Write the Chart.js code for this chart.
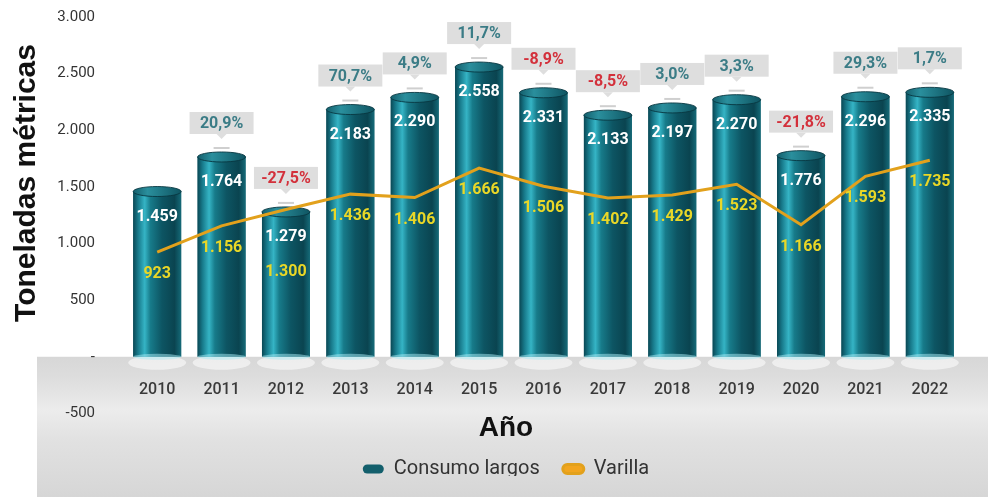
<!DOCTYPE html>
<html>
<head>
<meta charset="utf-8">
<script src="https://cdn.jsdelivr.net/npm/chart.js@4.4.0/dist/chart.umd.min.js"></script>
<style>
    html, body { margin: 0; padding: 0; background: #fff; }
</style>
</head>
<body>
<canvas id="grafica" width="988" height="497"></canvas>
<script>
var anios = ['2010', '2011', '2012', '2013', '2014', '2015', '2016', '2017', '2018', '2019', '2020', '2021', '2022']
var consumo_largos = [1459, 1764, 1279, 2183, 2290, 2558, 2331, 2133, 2197, 2270, 1776, 2296, 2335]
var varilla = [923, 1156, 1300, 1436, 1406, 1666, 1506, 1402, 1429, 1523, 1166, 1593, 1735]
// variacion anual del consumo (%), 2010 sin dato
var variacion = [null, 20.9, -27.5, 70.7, 4.9, 11.7, -8.9, -8.5, 3.0, 3.3, -21.8, 29.3, 1.7]
var ticks_y = [-500, 0, 500, 1000, 1500, 2000, 2500, 3000]

var fuente_num = 'Roboto, "DejaVu Sans", sans-serif'
var fuente_tit = '"Liberation Sans", Arial, sans-serif'

function miles(n) {
    return String(n).replace(/\B(?=(\d{3})+(?!\d))/g, '.')
}
function porcentaje(n) {
    return n.toFixed(1).replace('.', ',') + '%'
}

// franja gris bajo el cero
var fondo_gris = {
    id: 'fondo_gris',
    beforeDraw(chart) {
        const ctx = chart.ctx
        const y0 = chart.scales.y.getPixelForValue(0)
        const g = ctx.createLinearGradient(0, y0, 0, chart.height)
        g.addColorStop(0, '#d7d7d7')
        g.addColorStop(0.15, '#dddddd')
        g.addColorStop(0.38, '#ececec')
        g.addColorStop(0.6, '#e1e1e1')
        g.addColorStop(1, '#d6d6d6')
        ctx.save()
        ctx.fillStyle = g
        ctx.fillRect(37, y0, chart.width - 37, chart.height - y0)
        ctx.restore()
    }
}

// barras tipo cilindro
var cilindros = {
    id: 'cilindros',
    beforeDatasetDraw(chart, args) {
        if (args.index !== 0) return
        const ctx = chart.ctx
        ctx.save()
        args.meta.data.forEach(el => {
            const p = el.getProps(['x', 'base', 'width'], true)
            ctx.fillStyle = 'rgba(255,255,255,0.55)'
            ctx.beginPath()
            ctx.ellipse(p.x, p.base + 6, p.width / 2 + 5, 7, 0, 0, Math.PI * 2)
            ctx.fill()
        })
        ctx.restore()
    },
    afterDatasetDraw(chart, args) {
        if (args.index !== 0) return
        const ctx = chart.ctx
        ctx.save()
        args.meta.data.forEach(el => {
            const p = el.getProps(['x', 'y', 'base', 'width'], true)
            const izq = p.x - p.width / 2
            const g = ctx.createLinearGradient(izq, 0, izq + p.width, 0)
            g.addColorStop(0, '#0a4855')
            g.addColorStop(0.1, '#17798a')
            g.addColorStop(0.24, '#35b4c5')
            g.addColorStop(0.36, '#177b8a')
            g.addColorStop(0.6, '#0d5563')
            g.addColorStop(0.86, '#0a4450')
            g.addColorStop(1, '#156a78')
            ctx.fillStyle = g
            ctx.fillRect(izq, p.y, p.width, p.base - p.y)
            // brillo en la base
            ctx.fillStyle = 'rgba(170,235,245,0.5)'
            ctx.beginPath()
            ctx.ellipse(p.x, p.base, p.width / 2, 3, 0, 0, Math.PI * 2)
            ctx.fill()
            // tapa superior
            const t = ctx.createLinearGradient(izq, 0, izq + p.width, 0)
            t.addColorStop(0, '#145f6c')
            t.addColorStop(0.3, '#2a8f9d')
            t.addColorStop(1, '#0f5562')
            ctx.fillStyle = t
            ctx.beginPath()
            ctx.ellipse(p.x, p.y, p.width / 2, 5, 0, 0, Math.PI * 2)
            ctx.fill()
            ctx.strokeStyle = 'rgba(8,55,65,0.9)'
            ctx.lineWidth = 1
            ctx.stroke()
        })
        ctx.restore()
    }
}

// etiquetas de valores y variaciones
var etiquetas = {
    id: 'etiquetas',
    afterDraw(chart) {
        const ctx = chart.ctx
        const barras = chart.getDatasetMeta(0).data
        const puntos = chart.getDatasetMeta(1).data
        ctx.save()
        ctx.textAlign = 'center'
        ctx.textBaseline = 'middle'
        barras.forEach((el, i) => {
            const x = el.x, top = el.y
            const y_barra = top + 25
            ctx.font = 'bold 16px ' + fuente_num
            ctx.fillStyle = '#ffffff'
            ctx.fillText(miles(consumo_largos[i]), x, y_barra)

            let y_var = puntos[i].y + 22
            if (Math.abs(y_var - y_barra) < 20) y_var = y_barra + 35
            ctx.fillStyle = '#e9d727'
            ctx.fillText(miles(varilla[i]), x, y_var)

            if (variacion[i] === null) return
            const cy = top - 34
            ctx.fillStyle = '#dedede'
            ctx.fillRect(x - 32, cy - 11, 64, 22)
            ctx.beginPath()
            ctx.moveTo(x - 5, cy + 11)
            ctx.lineTo(x + 5, cy + 11)
            ctx.lineTo(x, cy + 16)
            ctx.closePath()
            ctx.fill()
            ctx.strokeStyle = '#cfcfcf'
            ctx.lineWidth = 2
            ctx.beginPath()
            ctx.moveTo(x - 8, top - 9)
            ctx.lineTo(x + 8, top - 9)
            ctx.stroke()
            ctx.font = 'bold 16px ' + fuente_num
            ctx.fillStyle = variacion[i] < 0 ? '#d3303b' : '#3b7c86'
            ctx.fillText(porcentaje(variacion[i]), x, cy + 1)
        })
        // titulo del eje y
        ctx.translate(27, 183)
        ctx.rotate(-Math.PI / 2)
        ctx.font = 'bold 30px ' + fuente_tit
        ctx.fillStyle = '#111111'
        ctx.fillText('Toneladas métricas', 0, 0)
        ctx.restore()
    }
}

var grafica = new Chart(document.getElementById('grafica'), {
    data: {
        labels: anios,
        datasets: [{
            type: 'bar',
            label: 'Consumo largos',
            data: consumo_largos,
            backgroundColor: '#135f6c',
            borderWidth: 0,
            barPercentage: 0.745,
            categoryPercentage: 1,
            order: 2
        }, {
            type: 'line',
            label: 'Varilla',
            data: varilla,
            borderColor: '#e2a11c',
            backgroundColor: '#f2a51e',
            borderWidth: 3,
            pointRadius: 0,
            tension: 0,
            order: 1
        }]
    },
    options: {
        responsive: false,
        animation: false,
        layout: { padding: { top: 17, left: 50, right: 26, bottom: 21 } },
        scales: {
            x: {
                position: { y: 0 },
                grid: { display: false, drawTicks: false },
                border: { display: false },
                afterFit: function (scale) { scale.height = 0 },
                ticks: { padding: 24, color: '#3a3a3a', font: { family: fuente_num, size: 16, weight: '500' } }
            },
            y: {
                min: -500,
                max: 3000,
                grid: { display: false, drawTicks: false },
                border: { display: false },
                afterBuildTicks: function (scale) {
                    scale.ticks = ticks_y.map(v => ({ value: v }))
                },
                afterFit: function (scale) {
                    scale.width = 75
                    scale.paddingTop = 8
                    scale.paddingBottom = 8
                },
                ticks: {
                    padding: 30,
                    color: '#333333',
                    font: { family: fuente_num, size: 15 },
                    callback: v => v === 0 ? '-' : miles(v)
                }
            }
        },
        plugins: {
            title: {
                display: true,
                position: 'bottom',
                weight: 500,
                text: 'Año',
                color: '#111111',
                padding: { top: -2, bottom: -9 },
                font: { family: fuente_tit, size: 28, weight: 'bold', lineHeight: 1.2 }
            },
            legend: {
                position: 'bottom',
                maxHeight: 40,
                labels: {
                    color: '#333333',
                    font: { family: fuente_num, size: 20 },
                    boxWidth: 21,
                    boxHeight: 9,
                    useBorderRadius: true,
                    borderRadius: 4.5,
                    padding: 23,
                    sort: (a, b) => a.datasetIndex - b.datasetIndex
                }
            },
            tooltip: { enabled: false }
        }
    },
    plugins: [fondo_gris, cilindros, etiquetas]
})
</script>
</body>
</html>
